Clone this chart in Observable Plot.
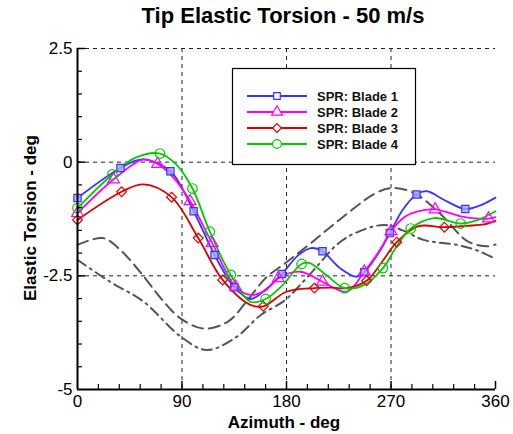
<!DOCTYPE html>
<html><head><meta charset="utf-8">
<script src="https://cdn.jsdelivr.net/npm/d3@7"></script>
<script src="https://cdn.jsdelivr.net/npm/@observablehq/plot@0.6"></script>
<style>
body{margin:0;background:#fff;font-family:"Liberation Sans",Arial,sans-serif;}
#wrap{position:relative;width:513px;height:434px;overflow:hidden;}
#wrap svg{position:absolute;left:0;top:0;}
.title{position:absolute;left:83px;width:400px;top:5px;text-align:center;font-weight:bold;font-size:22px;line-height:22px;color:#000;}
.xlab{position:absolute;left:134px;width:300px;top:414px;text-align:center;font-weight:bold;font-size:17px;line-height:17px;}
.ylab{position:absolute;left:-119px;width:300px;top:208px;height:20px;line-height:20px;text-align:center;font-weight:bold;font-size:17px;transform:rotate(-90deg);}
</style></head><body><div id="wrap"></div><script>
// ---- data ----
const seriesNames = ["SPR: Blade 1", "SPR: Blade 2", "SPR: Blade 3", "SPR: Blade 4"];
const seriesColors = ["#3535ff", "#ff00ff", "#dd0000", "#00cc00"];
const seriesSymbols = ["square", "triangle", "diamond2", "circle"];

const blade1Az  = [0, 37, 56, 80, 100, 118, 135, 149, 162, 176, 190, 201, 211, 226, 240, 247, 258, 269, 280, 292, 301, 315, 334, 347, 360];
const blade1Val = [-0.79, -0.13, 0.06, -0.20, -1.08, -2.04, -2.75, -3.01, -2.80, -2.46, -2.05, -1.89, -1.96, -2.33, -2.52, -2.42, -2.05, -1.56, -1.05, -0.71, -0.64, -0.82, -1.03, -0.95, -0.78];
const blade1Marks = [0, 37, 80, 100, 118, 135, 176, 211, 247, 269, 292, 334];

const blade2Az  = [0, 31, 57, 69, 83, 97, 116, 136, 149, 162, 173, 192, 211, 232, 247, 260, 270, 282, 293, 308, 330, 345, 354, 360];
const blade2Val = [-1.12, -0.38, 0.06, -0.04, -0.35, -0.86, -1.78, -2.74, -2.92, -2.82, -2.55, -2.41, -2.63, -2.85, -2.41, -1.95, -1.52, -1.20, -1.08, -1.04, -1.19, -1.24, -1.24, -1.21];
const blade2Marks = [0, 31, 69, 97, 116, 136, 173, 211, 247, 270, 308, 354];

const blade3Az  = [0, 38, 57, 81, 104, 125, 149, 160, 180, 204, 220, 232, 249, 262, 275, 293, 316, 335, 350, 360];
const blade3Val = [-1.27, -0.65, -0.49, -0.77, -1.67, -2.59, -3.14, -3.17, -2.85, -2.77, -2.76, -2.77, -2.61, -2.20, -1.76, -1.41, -1.43, -1.40, -1.37, -1.29];
const blade3Marks = [0, 38, 81, 104, 125, 160, 204, 249, 275, 316];

const blade4Az  = [0, 30, 50, 71, 85, 99, 114, 132, 149, 162, 176, 193, 200, 215, 230, 247, 263, 275, 287, 307, 330, 345, 360];
const blade4Val = [-1.01, -0.27, 0.10, 0.19, -0.05, -0.58, -1.53, -2.48, -3.07, -3.01, -2.72, -2.24, -2.22, -2.50, -2.77, -2.70, -2.33, -1.85, -1.46, -1.23, -1.35, -1.27, -1.08];
const blade4Marks = [0, 30, 71, 99, 114, 132, 162, 193, 230, 263, 287, 330];

const grayDashAz  = [0, 22, 38, 56, 72, 89, 109, 130, 146, 162, 180, 200, 224, 255, 270, 290, 313, 336, 353, 360];
const grayDashVal = [-1.82, -1.67, -1.96, -2.48, -3.00, -3.44, -3.66, -3.50, -3.05, -2.55, -2.20, -1.80, -1.30, -0.71, -0.57, -0.68, -1.15, -1.74, -1.85, -1.81];

const grayDashDotAz  = [0, 28, 57, 89, 111, 135, 158, 178, 190, 206, 224, 240, 264, 280, 298, 327, 345, 360];
const grayDashDotVal = [-2.15, -2.63, -3.07, -3.84, -4.13, -3.88, -3.36, -3.05, -2.75, -2.30, -1.80, -1.55, -1.38, -1.50, -1.71, -1.82, -1.95, -2.13];

const xTickLabels = [0, 90, 180, 270, 360];
const yTickLabels = [-5, -2.5, 0, 2.5];
const xGrid = [90, 180, 270];
const yGrid = [-2.5, 0, 2.5];
const xMajor = [90, 180, 270, 360];
const xMinor = [18, 36, 54, 72, 108, 126, 144, 162, 198, 216, 234, 252, 288, 306, 324, 342];
const yMajor = [-2.5, 0, 2.5];
const yMinor = [-4.5, -4, -3.5, -3, -2, -1.5, -1, -0.5, 0.5, 1, 1.5, 2];

// ---- build tables ----
const bladeAz = [blade1Az, blade2Az, blade3Az, blade4Az];
const bladeVal = [blade1Val, blade2Val, blade3Val, blade4Val];
const bladeMarks = [blade1Marks, blade2Marks, blade3Marks, blade4Marks];
const lines = [], marks = [];
seriesNames.forEach((name, i) => {
  bladeAz[i].forEach((a, j) => {
    const row = {name, az: a, val: bladeVal[i][j]};
    lines.push(row);
    if (bladeMarks[i].includes(a)) marks.push(row);
  });
});
const grayDash = grayDashAz.map((a, j) => ({az: a, val: grayDashVal[j]}));
const grayDashDot = grayDashDotAz.map((a, j) => ({az: a, val: grayDashDotVal[j]}));

const colorScale = {domain: seriesNames, range: seriesColors};
const symbolR = [4.1, 4.4, 4.4, 4.8];
const yTickLen = 0.176, yTickMin = 0.11;   // vertical tick length on the x axis (y units)
const xTickLen = 6.9, xTickMin = 4.3;      // horizontal tick length on the y axis (x units)

const plot = Plot.plot({
  width: 513, height: 434,
  marginLeft: 77, marginRight: 18, marginTop: 48, marginBottom: 45,
  x: {domain: [0, 360]},
  y: {domain: [-5, 2.5]},
  color: colorScale,
  style: {fontFamily: '"Liberation Sans", Arial, sans-serif', fontSize: "17px", background: "white", color: "black", overflow: "visible"},
  marks: [
    Plot.ruleX(xGrid, {stroke: "#222", strokeWidth: 1, strokeDasharray: "4,4"}),
    Plot.ruleY(yGrid, {stroke: "#222", strokeWidth: 1, strokeDasharray: "4,4"}),
    Plot.line(grayDash, {x: "az", y: "val", curve: "catmull-rom", stroke: "#555", strokeWidth: 2, strokeDasharray: "11,6"}),
    Plot.line(grayDashDot, {x: "az", y: "val", curve: "catmull-rom", stroke: "#555", strokeWidth: 2, strokeDasharray: "10,5,2,5"}),
    Plot.line(lines, {x: "az", y: "val", z: "name", stroke: "name", curve: "catmull-rom", strokeWidth: 1.8}),
    ...seriesNames.map((name, i) => Plot.dot(marks.filter(d => d.name === name), {
      x: "az", y: "val", symbol: () => seriesSymbols[i], r: symbolR[i],
      stroke: seriesColors[i], strokeWidth: 1.2,
      fill: i === 0 ? "#a8a8ff" : "none", fillOpacity: i === 0 ? 0.8 : 1
    })),
    Plot.ruleX(xMajor, {y1: -5, y2: -5 + yTickLen, stroke: "black", strokeWidth: 1.5}),
    Plot.ruleX(xMinor, {y1: -5, y2: -5 + yTickMin, stroke: "black", strokeWidth: 1.2}),
    Plot.ruleY(yMajor, {x1: 0, x2: xTickLen, stroke: "black", strokeWidth: 1.5}),
    Plot.ruleY(yMinor, {x1: 0, x2: xTickMin, stroke: "black", strokeWidth: 1.2}),
    Plot.ruleX([0], {stroke: "black", strokeWidth: 2}),
    Plot.ruleY([-5], {stroke: "black", strokeWidth: 2}),
    Plot.axisX({ticks: xTickLabels, tickSize: 0, tickPadding: 5, label: null, fontSize: 17}),
    Plot.axisY({ticks: yTickLabels, tickSize: 0, tickPadding: 5, label: null, fontSize: 17, tickFormat: d => String(d)})
  ]
});

const wrap = document.getElementById("wrap");
wrap.appendChild(plot);

const t = document.createElement("div"); t.className = "title"; t.textContent = "Tip Elastic Torsion - 50 m/s"; wrap.appendChild(t);
const xl = document.createElement("div"); xl.className = "xlab"; xl.textContent = "Azimuth - deg"; wrap.appendChild(xl);
const yl = document.createElement("div"); yl.className = "ylab"; yl.textContent = "Elastic Torsion - deg"; wrap.appendChild(yl);

// legend overlay
const lg = d3.select(wrap).append("svg")
  .attr("width", 513).attr("height", 434)
  .style("pointer-events", "none");
lg.append("rect").attr("x", 232.5).attr("y", 68.5).attr("width", 183).attr("height", 96)
  .attr("fill", "white").attr("stroke", "black").attr("stroke-width", 1.2);
const symMap = {square: d3.symbolSquare, triangle: d3.symbolTriangle, diamond2: d3.symbolDiamond2, circle: d3.symbolCircle};
seriesNames.forEach((name, i) => {
  const y = 96 + i * 16;
  lg.append("line").attr("x1", 247).attr("x2", 307).attr("y1", y).attr("y2", y)
    .attr("stroke", seriesColors[i]).attr("stroke-width", 1.8);
  const r = symbolR[i] - 0.4;
  lg.append("path").attr("transform", `translate(277,${y})`)
    .attr("d", d3.symbol(symMap[seriesSymbols[i]], Math.PI * r * r)())
    .attr("fill", "white").attr("stroke", seriesColors[i]).attr("stroke-width", 1.2);
  lg.append("text").attr("x", 317).attr("y", y + 4.5).text(name)
    .attr("font-family", '"Liberation Sans", Arial, sans-serif')
    .attr("font-weight", "bold").attr("font-size", 13).attr("fill", "#111");
});
</script></body></html>
